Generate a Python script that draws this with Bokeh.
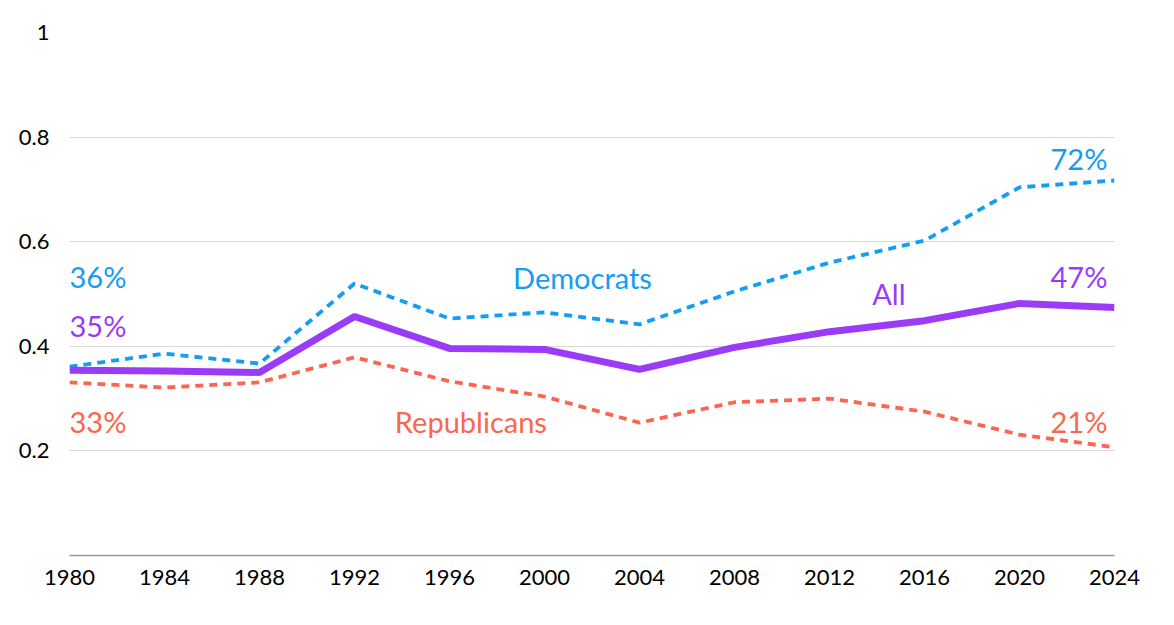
from bokeh.plotting import figure
from bokeh.models import Range1d, FixedTicker, Label
from bokeh.embed import file_html
from bokeh.resources import INLINE

years = [1980, 1984, 1988, 1992, 1996, 2000, 2004, 2008, 2012, 2016, 2020, 2024]
all_voters = [0.354, 0.353, 0.350, 0.457, 0.396, 0.394, 0.356, 0.398, 0.428, 0.449, 0.482, 0.474]
democrats = [0.361, 0.386, 0.367, 0.520, 0.453, 0.465, 0.442, 0.505, 0.560, 0.602, 0.704, 0.717]
republicans = [0.331, 0.321, 0.331, 0.379, 0.333, 0.304, 0.254, 0.293, 0.300, 0.275, 0.231, 0.207]
y_ticks = [0.2, 0.4, 0.6, 0.8, 1]

FONT = "Lato"
BLUE = "#139df4"
PURPLE = "#9a3cf7"
RED = "#fa6650"

p = figure(width=1166, height=617, output_backend="svg", toolbar_location=None,
           x_range=Range1d(1980, 2024), y_range=Range1d(0, 1))
p.min_border_left = 69
p.min_border_right = 52
p.min_border_top = 32
p.min_border_bottom = 62
p.outline_line_color = None

p.line(years, democrats, line_color=BLUE, line_width=3.8, line_dash="8 6")
p.line(years, republicans, line_color=RED, line_width=3.8, line_dash="8 6")
p.line(years, all_voters, line_color=PURPLE, line_width=7)

p.xgrid.grid_line_color = None
p.ygrid.grid_line_color = "#d9d9d9"
p.ygrid.grid_line_width = 1.2
p.ygrid.ticker = FixedTicker(ticks=y_ticks)

p.xaxis.ticker = FixedTicker(ticks=years)
p.yaxis.ticker = FixedTicker(ticks=y_ticks)
p.yaxis.major_label_overrides = {1: "1"}
p.xaxis.axis_line_color = "#999999"
p.xaxis.axis_line_width = 1.5
p.yaxis.axis_line_color = None
for ax in (p.xaxis, p.yaxis):
    ax.major_tick_out = 0
    ax.major_tick_in = 0
    ax.minor_tick_out = 0
    ax.minor_tick_in = 0
    ax.major_label_text_font = FONT
    ax.major_label_text_font_size = "22px"
    ax.major_label_text_color = "#000000"
p.xaxis.major_label_standoff = 14
p.yaxis.major_label_standoff = 20

# annotations: (text, x, y, colour, align)
notes = [
    ("%d%%" % round(democrats[0] * 100), 1980, 0.533, BLUE, "left"),
    ("%d%%" % round(all_voters[0] * 100), 1980, 0.440, PURPLE, "left"),
    ("%d%%" % round(republicans[0] * 100), 1980, 0.256, RED, "left"),
    ("%d%%" % round(democrats[-1] * 100), 2023.7, 0.760, BLUE, "right"),
    ("%d%%" % round(all_voters[-1] * 100), 2023.7, 0.533, PURPLE, "right"),
    ("%d%%" % round(republicans[-1] * 100), 2023.7, 0.256, RED, "right"),
    ("Democrats", 2001.6, 0.531, BLUE, "center"),
    ("All", 2014.5, 0.501, PURPLE, "center"),
    ("Republicans", 1996.9, 0.256, RED, "center"),
]
for text, x, y, color, align in notes:
    p.add_layout(Label(x=x, y=y, text=text, text_color=color, text_font=FONT,
                       text_font_size="29px", text_align=align,
                       text_baseline="middle"))

open("out.html", "w").write(file_html(p, INLINE))
